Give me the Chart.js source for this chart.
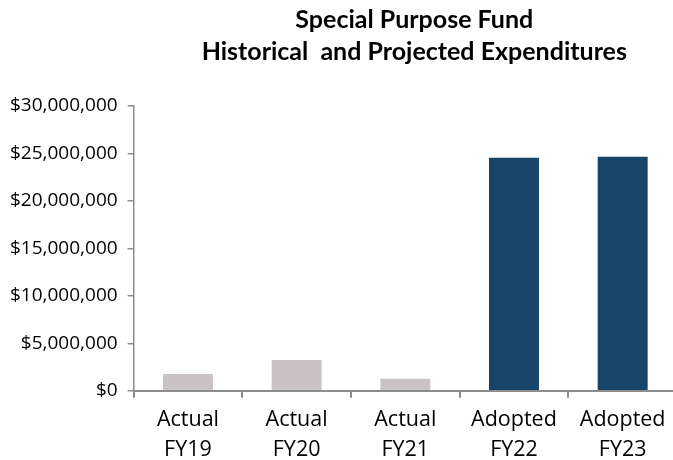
<!DOCTYPE html>
<html>
<head>
<meta charset="utf-8">
<script src="https://cdn.jsdelivr.net/npm/chart.js@4/dist/chart.umd.min.js"></script>
<style>
  html, body { margin: 0; padding: 0; background: #fff; overflow: hidden; }
  #fundChart { display: block; }
</style>
</head>
<body>
<canvas id="fundChart" width="677" height="472"></canvas>
<script>
const categories = [['Actual', 'FY19'], ['Actual', 'FY20'], ['Actual', 'FY21'], ['Adopted', 'FY22'], ['Adopted', 'FY23']];
const expenditures = [1780000, 3250000, 1260000, 24550000, 24660000];
const barColors = ['#c9c3c5', '#c9c3c5', '#c9c3c5', '#17456a', '#17456a'];
const titleLines = ['Special Purpose Fund', 'Historical  and Projected Expenditures'];

const axisGrey = '#8c8c8c';
const font = '"Open Sans", sans-serif';

// title sits a little right of the canvas centre, over the plot area
const plotTitle = {
    id: 'plotTitle',
    afterDraw(chart) {
        const { ctx, chartArea } = chart;
        const cx = (chartArea.left + chartArea.right) / 2 + 9;
        ctx.save();
        ctx.fillStyle = '#000';
        ctx.font = 'bold 25px Lato, sans-serif';
        ctx.textAlign = 'center';
        ctx.textBaseline = 'alphabetic';
        ctx.fillText(titleLines[0], cx, 28);
        ctx.fillText(titleLines[1], cx, 60);
        ctx.restore();
    }
};

new Chart(document.getElementById('fundChart'), {
    type: 'bar',
    data: {
        labels: categories,
        datasets: [{ data: expenditures, backgroundColor: barColors, barPercentage: 0.46, categoryPercentage: 1 }]
    },
    options: {
        responsive: false,
        animation: false,
        layout: { padding: { top: 106, right: 0, left: 0, bottom: 0 } },
        plugins: {
            legend: { display: false },
            tooltip: { enabled: false }
        },
        scales: {
            x: {
                grid: { display: true, drawOnChartArea: false, drawTicks: true, tickLength: 7, color: axisGrey, lineWidth: 2 },
                border: { display: true, color: axisGrey, width: 2 },
                ticks: { color: '#000', font: { family: font, size: 21.5, lineHeight: 1.4 }, maxRotation: 0, padding: 7 }
            },
            y: {
                min: 0,
                max: 30000000,
                grid: { display: true, drawOnChartArea: false, drawTicks: true, tickLength: 6, color: axisGrey, lineWidth: 1.5 },
                border: { display: true, color: axisGrey, width: 1.5 },
                ticks: {
                    stepSize: 5000000,
                    color: '#000',
                    padding: 10,
                    font: { family: font, size: 19 },
                    callback: v => '$' + v.toLocaleString('en-US')
                }
            }
        }
    },
    plugins: [plotTitle]
});
</script>
</body>
</html>
